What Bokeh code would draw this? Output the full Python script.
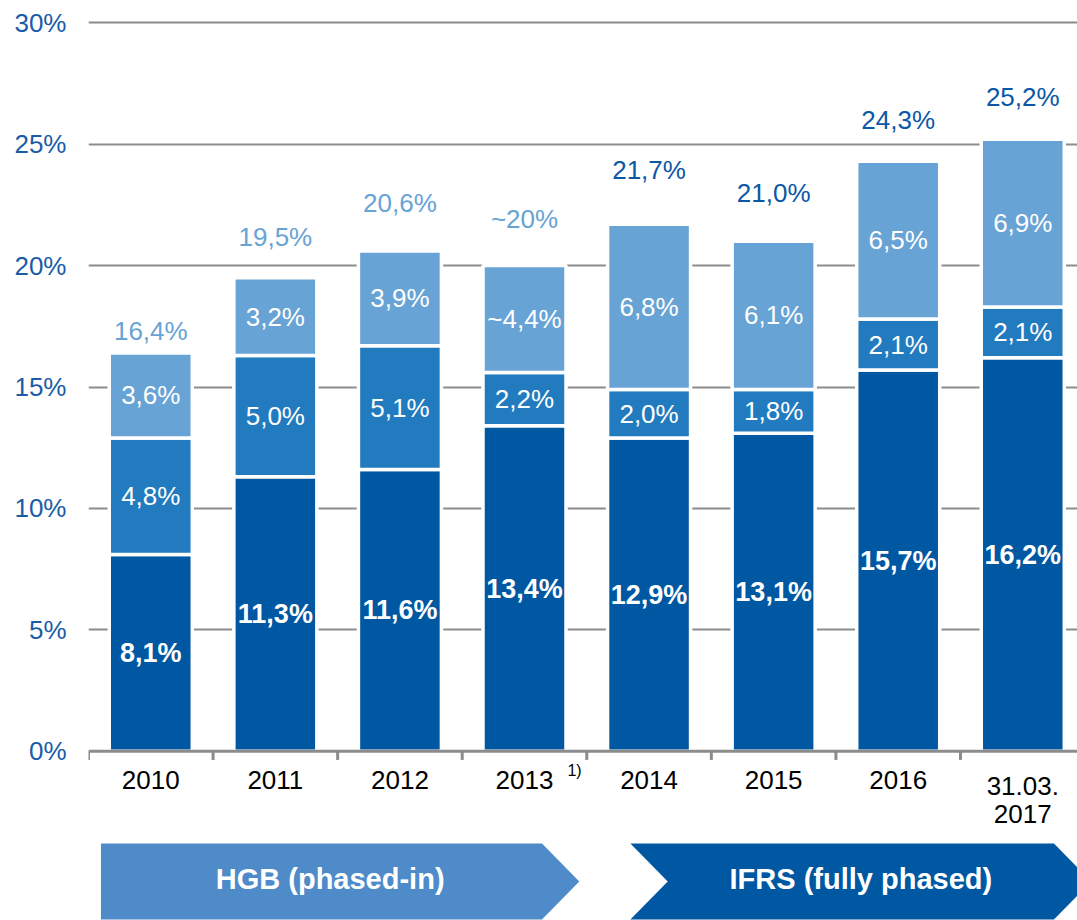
from bokeh.plotting import figure
from bokeh.models import Range1d, FixedTicker, PrintfTickFormatter, ColumnDataSource
from bokeh.core.properties import value
from bokeh.embed import file_html
from bokeh.resources import INLINE

# ---------------- data ----------------
categories = ["2010", "2011", "2012", "2013", "2014", "2015", "2016", "31.03.\n2017"]
cet1 = [8.1, 11.3, 11.6, 13.4, 12.9, 13.1, 15.7, 16.2]
tier_mid = [4.8, 5.0, 5.1, 2.2, 2.0, 1.8, 2.1, 2.1]
tier_top = [3.6, 3.2, 3.9, 4.4, 6.8, 6.1, 6.5, 6.9]
totals = [16.4, 19.5, 20.6, 20.0, 21.7, 21.0, 24.3, 25.2]

cet1_labels = ["8,1%", "11,3%", "11,6%", "13,4%", "12,9%", "13,1%", "15,7%", "16,2%"]
mid_labels = ["4,8%", "5,0%", "5,1%", "2,2%", "2,0%", "1,8%", "2,1%", "2,1%"]
top_labels = ["3,6%", "3,2%", "3,9%", "~4,4%", "6,8%", "6,1%", "6,5%", "6,9%"]
total_labels = ["16,4%", "19,5%", "20,6%", "~20%", "21,7%", "21,0%", "24,3%", "25,2%"]
y_ticks = [0, 5, 10, 15, 20, 25, 30]
footnote = "1)"
regimes = ["HGB (phased-in)", "IFRS (fully phased)"]

# ---------------- style ----------------
DARK = "#0057A2"
MID = "#217BBE"
LIGHT = "#68A3D5"
HGB_COL = "#4E8BC8"
GRID = "#8C8C8C"
TICKCOL = "#1A5CA8"
FONT = "Liberation Sans"
total_colors = [LIGHT, LIGHT, LIGHT, LIGHT, "#0A58A5", "#0A58A5", "#0A58A5", "#0A58A5"]
total_lift = [0.9, 1.66, 1.96, 1.91, 2.22, 2.01, 1.68, 1.76]

W, H = 1077, 920
LEFT = 88
PX_PER_CAT = 124.57
PX_PER_PCT = 24.28
frame_w = W - LEFT
x_max = frame_w / PX_PER_CAT
y_top = 30 + 22.3 / PX_PER_PCT
y_bot = y_top - H / PX_PER_PCT

n = len(categories)
xc = [i + 0.5 for i in range(n)]
mid_top = [a + b for a, b in zip(cet1, tier_mid)]

p = figure(width=W, height=H, output_backend="svg", toolbar_location=None,
           x_range=Range1d(0, x_max), y_range=Range1d(y_bot, y_top),
           x_axis_location=None, min_border_left=LEFT, min_border_right=0,
           min_border_top=0, min_border_bottom=0)
p.outline_line_color = None
p.background_fill_color = "white"
p.border_fill_color = "white"
p.xgrid.visible = False
p.ygrid.ticker = FixedTicker(ticks=y_ticks[1:])
p.ygrid.grid_line_color = GRID
p.ygrid.grid_line_width = 2

ax = p.yaxis[0]
ax.ticker = FixedTicker(ticks=y_ticks)
ax.formatter = PrintfTickFormatter(format="%d%%")
ax.axis_line_color = None
ax.major_tick_line_color = None
ax.minor_tick_line_color = None
ax.major_tick_out = 0
ax.major_tick_in = 0
ax.major_label_standoff = 22
ax.major_label_text_font = FONT
ax.major_label_text_font_size = "26px"
ax.major_label_text_color = TICKCOL

src = ColumnDataSource(dict(x=xc, cet1=cet1, mid_top=mid_top, totals=totals,
                            c_lab=cet1_labels, m_lab=mid_labels, t_lab=top_labels,
                            tot_lab=total_labels, tot_col=total_colors,
                            c_y=[v / 2 for v in cet1],
                            m_y=[(a + b) / 2 for a, b in zip(cet1, mid_top)],
                            t_y=[(a + b) / 2 for a, b in zip(mid_top, totals)],
                            tot_y=[t + l for t, l in zip(totals, total_lift)],
                            cat=categories))

bw = 83 / PX_PER_CAT
p.vbar(x="x", bottom=0, top="cet1", width=bw, source=src, fill_color=DARK,
       line_color="white", line_width=3.5)
p.vbar(x="x", bottom="cet1", top="mid_top", width=bw, source=src, fill_color=MID,
       line_color="white", line_width=3.5)
p.vbar(x="x", bottom="mid_top", top="totals", width=bw, source=src, fill_color=LIGHT,
       line_color="white", line_width=3.5)

# x axis line and ticks
p.segment(x0=0, y0=0, x1=x_max, y1=0, line_color=GRID, line_width=3)
tick_x = list(range(n))
p.segment(x0=tick_x, y0=[0] * n, x1=tick_x, y1=[-0.36] * n, line_color=GRID, line_width=3)

common = dict(text_font=value(FONT), text_font_size="26px", text_align="center",
              text_baseline="middle")
p.text(x="x", y="c_y", text="c_lab", source=src, text_color="white",
       text_font_style="bold", **{**common, "text_font_size": "27px"})
p.text(x="x", y="m_y", text="m_lab", source=src, text_color="white", **common)
p.text(x="x", y="t_y", text="t_lab", source=src, text_color="white", **common)
p.text(x="x", y="tot_y", text="tot_lab", source=src, text_color="tot_col", **common)

# category labels
p.text(x="x", y=-0.8, text="cat", source=src, text_color="black",
       text_font=value(FONT), text_font_size="26px", text_align="center",
       text_baseline="top", text_line_height=0.93)
p.text(x=[xc[3]], y=[-0.8], text=[footnote], x_offset=50, text_color="black",
       text_font=value(FONT), text_font_size="16px", text_align="center",
       text_baseline="middle")

# regime arrows
a_top = (750.7 - 843) / PX_PER_PCT
a_bot = (750.7 - 919) / PX_PER_PCT
a_mid = (a_top + a_bot) / 2
tip = 0.3
h0, h1 = 0.1, 3.64
i0, i1 = 4.35, 7.75
p.patch(x=[h0, h1, h1 + tip, h1, h0], y=[a_top, a_top, a_mid, a_bot, a_bot],
        fill_color=HGB_COL, line_color=None)
p.patch(x=[i0, i1, i1 + tip, i1, i0, i0 + tip], y=[a_top, a_top, a_mid, a_bot, a_bot, a_mid],
        fill_color=DARK, line_color=None)
p.text(x=[(h0 + h1) / 2 + 0.07, (i0 + tip + i1) / 2], y=[a_mid + 0.12, a_mid + 0.12],
       text=regimes, text_color="white", text_font=value(FONT), text_font_size="29px",
       text_font_style="bold", text_align="center", text_baseline="middle")

open("out.html", "w").write(file_html(p, INLINE))
